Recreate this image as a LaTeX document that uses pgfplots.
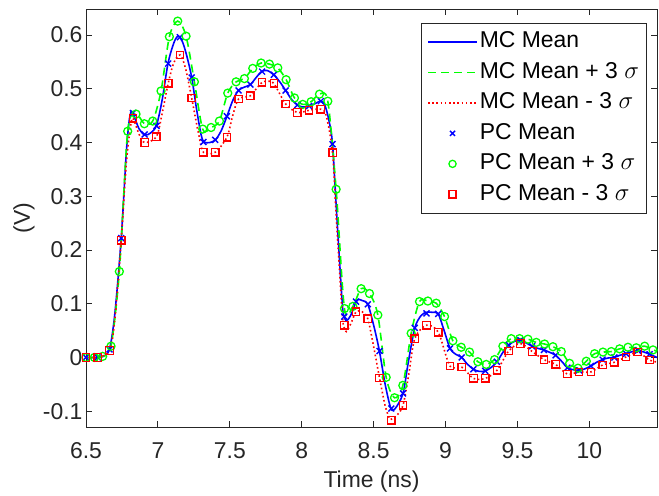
\documentclass[border=0pt]{standalone}
\usepackage{fontspec}
\setmainfont{Liberation Sans}
\usepackage{pgfplots}
\pgfplotsset{compat=1.18}

\definecolor{axgray}{rgb}{0.15,0.15,0.15}
\newcommand{\chartfont}{\fontsize{23}{27}\selectfont}

\pgfplotsset{
  lineleg/.style={legend image code/.code={\draw[##1] (0bp,0bp) -- (49bp,0bp);}},
  markleg/.style={legend image code/.code={\draw[##1, mark size=3.6bp] plot coordinates {(24.5bp,0bp)};}},
}

\begin{document}
\begin{tikzpicture}
\begin{axis}[
  scale only axis, width=571bp, height=418bp,
  xmin=6.5, xmax=10.47, ymin=-0.13, ymax=0.648,
  xtick={6.5,7,7.5,8,8.5,9,9.5,10},
  xticklabels={6.5,7,7.5,8,8.5,9,9.5,10},
  ytick={-0.1,0,0.1,0.2,0.3,0.4,0.5,0.6},
  yticklabels={-0.1,0,0.1,0.2,0.3,0.4,0.5,0.6},
  tick align=inside, tick pos=both, major tick length=6bp,
  every tick/.style={axgray, line width=0.9bp},
  axis line style={axgray, line width=0.9bp},
  tick label style={font=\chartfont, text=axgray},
  xticklabel style={anchor=base, yshift=-31bp},
  label style={font=\chartfont, text=axgray},
  xlabel={Time (ns)}, ylabel={(V)},
  xlabel style={at={(axis description cs:0.5,-0.1452)}, anchor=base},
  ylabel style={at={(axis description cs:-0.0981,0.5)}, anchor=base},
  legend cell align=left,
  legend style={at={(0.9825,0.968)}, anchor=north east, draw=axgray, line width=0.9bp,
    font=\chartfont, inner sep=5.5bp, row sep=4bp,
    nodes={inner sep=2bp, text height=17bp, text depth=5.5bp}},
]
% MC mean
\addplot[blue, line width=1.6bp, smooth, lineleg] table {
6.5 0
6.58 0
6.62 0.002
6.663 0.015
6.70 0.08
6.745 0.222
6.78 0.38
6.80 0.44
6.815 0.458
6.83 0.452
6.87 0.425
6.91 0.414
6.95 0.418
6.99 0.432
7.03 0.48
7.07 0.547
7.11 0.585
7.14 0.598
7.17 0.588
7.20 0.562
7.235 0.521
7.27 0.46
7.30 0.415
7.32 0.401
7.36 0.400
7.40 0.405
7.44 0.422
7.48 0.449
7.52 0.478
7.56 0.497
7.60 0.503
7.643 0.508
7.68 0.52
7.72 0.532
7.76 0.534
7.806 0.526
7.85 0.512
7.888 0.497
7.93 0.48
7.97 0.470
8.01 0.466
8.05 0.468
8.09 0.472
8.13 0.477
8.16 0.47
8.19 0.44
8.214 0.397
8.24 0.28
8.265 0.17
8.285 0.09
8.296 0.076
8.31 0.068
8.34 0.078
8.378 0.104
8.40 0.108
8.42 0.106
8.459 0.099
8.50 0.06
8.54 0.012
8.58 -0.05
8.62 -0.095
8.65 -0.095
8.704 -0.067
8.74 -0.01
8.786 0.055
8.83 0.078
8.867 0.084
8.91 0.084
8.949 0.081
8.99 0.05
9.031 0.017
9.07 0.006
9.112 0.000
9.15 -0.012
9.194 -0.022
9.235 -0.026
9.276 -0.025
9.32 -0.018
9.357 -0.008
9.40 0.010
9.439 0.023
9.48 0.030
9.52 0.032
9.56 0.027
9.602 0.021
9.64 0.017
9.684 0.014
9.72 0.010
9.765 0.004
9.81 -0.008
9.847 -0.019
9.89 -0.023
9.929 -0.024
9.97 -0.021
10.01 -0.016
10.05 -0.009
10.092 -0.004
10.13 -0.001
10.174 0.000
10.21 0.004
10.255 0.007
10.30 0.011
10.337 0.013
10.38 0.010
10.418 0.006
10.47 0.000
};
\addlegendentry{MC Mean}
% MC mean + 3 sigma
\addplot[green, line width=1.6bp, dash pattern=on 8bp off 5bp, smooth, lineleg] table {
6.5 0
6.5580 0
6.6159 0.002
6.6739 0.021
6.7319 0.16
6.7899 0.421
6.8478 0.453
6.9058 0.435
6.9638 0.440
7.0217 0.496
7.0797 0.597
7.1377 0.626
7.1957 0.598
7.2536 0.513
7.3116 0.425
7.3696 0.428
7.4275 0.440
7.4855 0.492
7.5435 0.513
7.6014 0.519
7.6594 0.538
7.7174 0.548
7.7754 0.546
7.8333 0.539
7.8913 0.517
7.9493 0.483
8.0072 0.471
8.0652 0.476
8.1232 0.490
8.1812 0.477
8.2391 0.313
8.2971 0.091
8.3551 0.095
8.4130 0.128
8.4710 0.119
8.5290 0.079
8.5870 -0.037
8.6449 -0.075
8.7029 -0.052
8.7609 0.045
8.8188 0.104
8.8768 0.105
8.9348 0.101
8.9928 0.076
9.0507 0.031
9.1087 0.019
9.1667 0.010
9.2246 -0.008
9.2826 -0.013
9.3406 -0.004
9.3986 0.021
9.4565 0.035
9.5145 0.035
9.5725 0.034
9.6304 0.028
9.6884 0.025
9.7464 0.020
9.8043 0.011
9.8623 -0.011
9.9203 -0.020
9.9783 -0.007
10.0362 0.007
10.0942 0.010
10.1522 0.011
10.2101 0.016
10.2681 0.019
10.3261 0.018
10.3841 0.021
10.4420 0.014
10.5 0.010
};
\addlegendentry{MC Mean + 3 $\sigma$}
% MC mean - 3 sigma
\addplot[red, line width=1.6bp, dash pattern=on 1.6bp off 2.6bp, smooth, lineleg] table {
6.5 0
6.5816 0
6.6633 0.013
6.70 0.07
6.7449 0.218
6.78 0.36
6.81 0.43
6.8265 0.445
6.87 0.415
6.9082 0.400
6.9898 0.411
7.03 0.455
7.0714 0.510
7.11 0.548
7.1531 0.563
7.19 0.54
7.2347 0.483
7.28 0.42
7.3163 0.382
7.3980 0.382
7.4796 0.410
7.52 0.45
7.5612 0.481
7.6429 0.487
7.6837 0.500
7.7245 0.512
7.76 0.514
7.8061 0.510
7.8878 0.472
7.9694 0.456
8.0510 0.460
8.1327 0.462
8.17 0.45
8.2143 0.381
8.24 0.26
8.265 0.15
8.285 0.07
8.2959 0.055
8.31 0.048
8.34 0.062
8.3776 0.085
8.42 0.085
8.4592 0.072
8.50 0.02
8.5408 -0.038
8.58 -0.09
8.61 -0.113
8.6224 -0.115
8.66 -0.108
8.7041 -0.089
8.745 -0.03
8.7857 0.035
8.8673 0.060
8.9490 0.047
9.0306 -0.016
9.1122 -0.018
9.1939 -0.039
9.2755 -0.039
9.3571 -0.024
9.4388 0.012
9.5204 0.026
9.6020 0.011
9.6837 -0.004
9.7653 -0.013
9.8469 -0.031
9.9286 -0.027
10.0102 -0.027
10.0918 -0.014
10.1735 -0.009
10.2551 0.001
10.3367 0.010
10.4184 -0.005
10.5 -0.010
};
\addlegendentry{MC Mean - 3 $\sigma$}
% PC mean
\addplot[blue, only marks, mark=x, mark size=4.2bp, line width=1.4bp, markleg] table {
6.5 0
6.5816 0
6.6633 0.015
6.7449 0.222
6.8265 0.455
6.9082 0.415
6.9898 0.431
7.0714 0.547
7.1531 0.596
7.2347 0.521
7.3163 0.401
7.3980 0.405
7.4796 0.449
7.5612 0.497
7.6429 0.508
7.7245 0.532
7.8061 0.526
7.8878 0.497
7.9694 0.470
8.0510 0.468
8.1327 0.477
8.2143 0.397
8.2959 0.076
8.3776 0.104
8.4592 0.099
8.5408 0.012
8.6224 -0.095
8.7041 -0.067
8.7857 0.055
8.8673 0.082
8.9490 0.081
9.0306 0.017
9.1122 0.000
9.1939 -0.022
9.2755 -0.025
9.3571 -0.008
9.4388 0.023
9.5204 0.032
9.6020 0.021
9.6837 0.014
9.7653 0.004
9.8469 -0.019
9.9286 -0.024
10.0102 -0.016
10.0918 -0.004
10.1735 0.000
10.2551 0.007
10.3367 0.013
10.4184 0.006
};
\addlegendentry{PC Mean}
% PC mean + 3 sigma
\addplot[green, only marks, mark=o, mark size=4bp, line width=1.3bp, markleg] table {
6.5 0
6.5580 0
6.6159 0.002
6.6739 0.021
6.7319 0.16
6.7899 0.421
6.8478 0.453
6.9058 0.435
6.9638 0.440
7.0217 0.496
7.0797 0.597
7.1377 0.626
7.1957 0.598
7.2536 0.513
7.3116 0.425
7.3696 0.428
7.4275 0.440
7.4855 0.492
7.5435 0.513
7.6014 0.519
7.6594 0.538
7.7174 0.548
7.7754 0.546
7.8333 0.539
7.8913 0.517
7.9493 0.483
8.0072 0.471
8.0652 0.476
8.1232 0.490
8.1812 0.477
8.2391 0.313
8.2971 0.091
8.3551 0.095
8.4130 0.128
8.4710 0.119
8.5290 0.079
8.5870 -0.037
8.6449 -0.075
8.7029 -0.052
8.7609 0.045
8.8188 0.104
8.8768 0.105
8.9348 0.101
8.9928 0.076
9.0507 0.031
9.1087 0.019
9.1667 0.010
9.2246 -0.008
9.2826 -0.013
9.3406 -0.004
9.3986 0.021
9.4565 0.035
9.5145 0.035
9.5725 0.034
9.6304 0.028
9.6884 0.025
9.7464 0.020
9.8043 0.011
9.8623 -0.011
9.9203 -0.020
9.9783 -0.007
10.0362 0.007
10.0942 0.010
10.1522 0.011
10.2101 0.016
10.2681 0.019
10.3261 0.018
10.3841 0.021
10.4420 0.014
};
\addlegendentry{PC Mean + 3 $\sigma$}
% PC mean - 3 sigma
\addplot[red, only marks, mark=square, mark size=3.7bp, line width=1.3bp, markleg] table {
6.5 0
6.5816 0
6.6633 0.013
6.7449 0.218
6.8265 0.445
6.9082 0.400
6.9898 0.411
7.0714 0.510
7.1531 0.563
7.2347 0.483
7.3163 0.382
7.3980 0.382
7.4796 0.410
7.5612 0.481
7.6429 0.487
7.7245 0.512
7.8061 0.510
7.8878 0.472
7.9694 0.456
8.0510 0.460
8.1327 0.462
8.2143 0.381
8.2959 0.060
8.3776 0.085
8.4592 0.072
8.5408 -0.038
8.6224 -0.117
8.7041 -0.089
8.7857 0.035
8.8673 0.060
8.9490 0.047
9.0306 -0.016
9.1122 -0.018
9.1939 -0.039
9.2755 -0.039
9.3571 -0.024
9.4388 0.012
9.5204 0.026
9.6020 0.011
9.6837 -0.004
9.7653 -0.013
9.8469 -0.031
9.9286 -0.027
10.0102 -0.027
10.0918 -0.014
10.1735 -0.009
10.2551 0.001
10.3367 0.010
10.4184 -0.005
10.5 -0.010
};
\addlegendentry{PC Mean - 3 $\sigma$}
\end{axis}
\pgfresetboundingbox
\path[use as bounding box] (-86bp,-68.7bp) rectangle (573bp,427.3bp);
\end{tikzpicture}
\end{document}
